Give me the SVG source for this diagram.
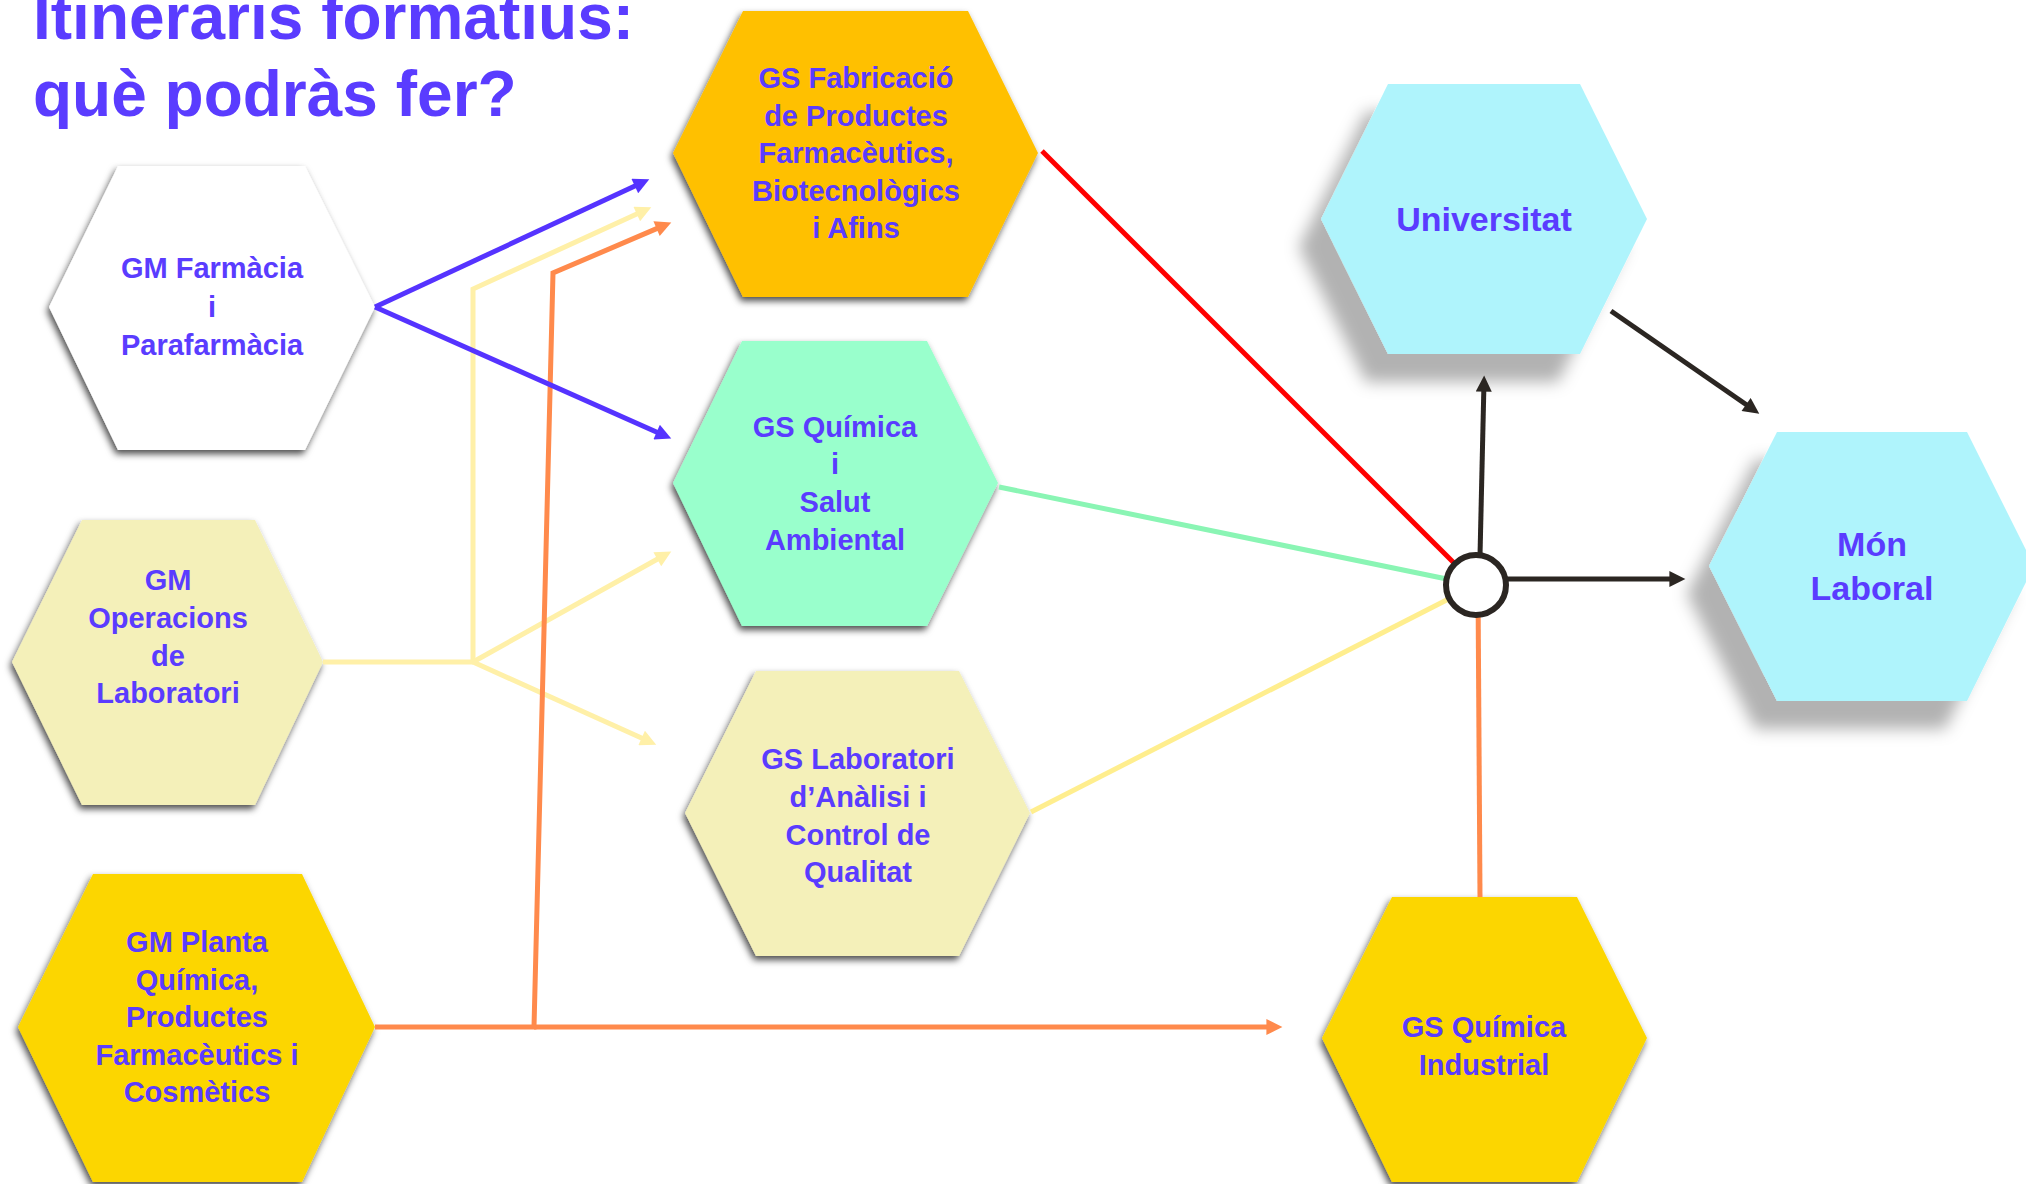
<svg xmlns="http://www.w3.org/2000/svg" width="2026" height="1184" viewBox="0 0 2026 1184">
<defs>
  <style>
    .t{font-family:"Liberation Sans",Arial,sans-serif;font-weight:bold;fill:#5a3cff;text-anchor:middle}
    .n29{font-size:29px}
    .n34{font-size:34px}
    .title{font-family:"Liberation Sans",Arial,sans-serif;font-weight:bold;font-size:64px;fill:#5a3cff}
    .c{fill:none;stroke-width:5;stroke-linejoin:miter}
    .blue{stroke:#5533ff}
    .pale{stroke:#fff0a8}
    .orange{stroke:#ff8a4c}
    .red{stroke:#ff0000}
    .green{stroke:#8af5b4}
    .yel{stroke:#ffee8e}
    .dark{stroke:#2b2622}
  </style>
  <filter id="sh" x="-10%" y="-10%" width="120%" height="125%">
    <feDropShadow dx="-2" dy="4" stdDeviation="3.5" flood-color="#000" flood-opacity="0.7"/>
  </filter>
  <filter id="shBig" x="-20%" y="-20%" width="140%" height="150%">
    <feDropShadow dx="-22" dy="28" stdDeviation="8" flood-color="#000" flood-opacity="0.3"/>
  </filter>
  <marker id="aBlue" viewBox="0 0 10 10" refX="6" refY="5" markerWidth="3.6" markerHeight="3.2" orient="auto"><path d="M0,0 L10,5 L0,10 z" fill="#5533ff"/></marker>
  <marker id="aPale" viewBox="0 0 10 10" refX="6" refY="5" markerWidth="3.6" markerHeight="3.2" orient="auto"><path d="M0,0 L10,5 L0,10 z" fill="#fff0a8"/></marker>
  <marker id="aOrange" viewBox="0 0 10 10" refX="6" refY="5" markerWidth="3.6" markerHeight="3.2" orient="auto"><path d="M0,0 L10,5 L0,10 z" fill="#ff8a4c"/></marker>
  <marker id="aDark" viewBox="0 0 10 10" refX="6" refY="5" markerWidth="3.6" markerHeight="3.2" orient="auto"><path d="M0,0 L10,5 L0,10 z" fill="#2b2622"/></marker>
</defs>
<rect width="2026" height="1184" fill="#ffffff"/>

<text class="title" x="33" y="39">Itineraris formatius:</text>
<text class="title" x="33" y="116">què podràs fer?</text>

<g id="gm-farmacia">
  <polygon points="118,166 305,166 375,307 305,450 118,450 49,307" fill="#ffffff" filter="url(#sh)"/>
  <text class="t n29"><tspan x="212" y="278">GM Farmàcia</tspan><tspan x="212" y="317">i</tspan><tspan x="212" y="355">Parafarmàcia</tspan></text>
</g>
<g id="gm-operacions">
  <polygon points="82,520 255,520 323,662 255,805 82,805 12,662" fill="#f4f0b9" filter="url(#sh)"/>
  <text class="t n29"><tspan x="168" y="590">GM</tspan><tspan x="168" y="628">Operacions</tspan><tspan x="168" y="666">de</tspan><tspan x="168" y="703">Laboratori</tspan></text>
</g>
<g id="gm-planta">
  <polygon points="93,874 302,874 375,1027 302,1182 93,1182 18,1027" fill="#fcd600" filter="url(#sh)"/>
  <text class="t n29"><tspan x="197" y="952">GM Planta</tspan><tspan x="197" y="990">Química,</tspan><tspan x="197" y="1027">Productes</tspan><tspan x="197" y="1065">Farmacèutics i</tspan><tspan x="197" y="1102">Cosmètics</tspan></text>
</g>
<g id="gs-fabricacio">
  <polygon points="743,11 968,11 1038,153 968,297 743,297 673,153" fill="#ffc000" filter="url(#sh)"/>
  <text class="t n29"><tspan x="856" y="88">GS Fabricació</tspan><tspan x="856" y="126">de Productes</tspan><tspan x="856" y="163">Farmacèutics,</tspan><tspan x="856" y="201">Biotecnològics</tspan><tspan x="856" y="238">i Afins</tspan></text>
</g>
<g id="gs-quimica-salut">
  <polygon points="742,341 927,341 998,483 927,626 742,626 673,483" fill="#99ffcc" filter="url(#sh)"/>
  <text class="t n29"><tspan x="835" y="437">GS Química</tspan><tspan x="835" y="474">i</tspan><tspan x="835" y="512">Salut</tspan><tspan x="835" y="550">Ambiental</tspan></text>
</g>
<g id="gs-laboratori">
  <polygon points="756,671 959,671 1030,813 959,956 756,956 685,813" fill="#f4f0b9" filter="url(#sh)"/>
  <text class="t n29"><tspan x="858" y="769">GS Laboratori</tspan><tspan x="858" y="807">d’Anàlisi i</tspan><tspan x="858" y="845">Control de</tspan><tspan x="858" y="882">Qualitat</tspan></text>
</g>
<g id="universitat">
  <polygon points="1388,84 1580,84 1647,219 1580,354 1388,354 1321,219" fill="#aff4fc" filter="url(#shBig)"/>
  <text class="t n34" x="1484" y="231">Universitat</text>
</g>
<g id="mon-laboral">
  <polygon points="1777,432 1967,432 2034,566 1967,701 1777,701 1709,566" fill="#aff4fc" filter="url(#shBig)"/>
  <text class="t n34"><tspan x="1872" y="556">Món</tspan><tspan x="1872" y="600">Laboral</tspan></text>
</g>
<g id="gs-quimica-industrial">
  <polygon points="1392,897 1577,897 1647,1038 1577,1182 1392,1182 1322,1038" fill="#fcd600" filter="url(#sh)"/>
  <text class="t n29"><tspan x="1484" y="1037">GS Química</tspan><tspan x="1484" y="1075">Industrial</tspan></text>
</g>

<g id="connectors">
  <path class="c pale" d="M323,662 L473,662"/>
  <path class="c pale" d="M473,662 L473,289 L645.5,210" marker-end="url(#aPale)"/>
  <path class="c pale" d="M473,662 L665.7,554.5" marker-end="url(#aPale)"/>
  <path class="c pale" d="M473,662 L650.4,742" marker-end="url(#aPale)"/>
  <path class="c orange" d="M375,1027 L534,1027 L553,273 L665.4,224.9" marker-end="url(#aOrange)"/>
  <path class="c orange" d="M534,1027 L1276,1027" marker-end="url(#aOrange)"/>
  <path class="c blue" d="M375,307 L643.5,182" marker-end="url(#aBlue)"/>
  <path class="c blue" d="M375,307 L665.4,436" marker-end="url(#aBlue)"/>
  <path class="c red" d="M1042,151 L1476,585"/>
  <path class="c green" d="M999,487 L1476,585"/>
  <path class="c yel" d="M1031,812 L1476,585"/>
  <path class="c orange" d="M1480,897 L1478,585"/>
  <path class="c dark" d="M1480,556 L1484,382" marker-end="url(#aDark)"/>
  <path class="c dark" d="M1506,579 L1679,579" marker-end="url(#aDark)"/>
  <path class="c dark" d="M1611,311 L1754,410" marker-end="url(#aDark)"/>
  <circle cx="1476" cy="585" r="30" fill="#ffffff" stroke="#2b2622" stroke-width="6"/>
</g>
</svg>
